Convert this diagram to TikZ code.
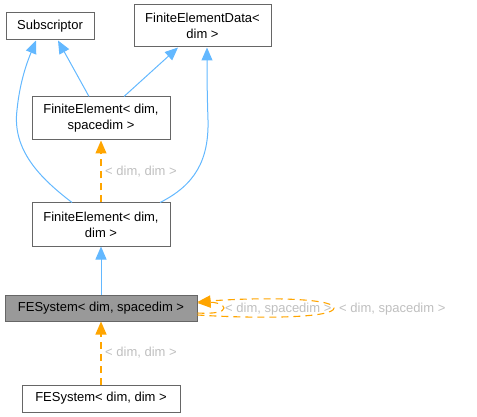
\documentclass[tikz,border=0pt]{standalone}
\usepackage{fontspec}
\setmainfont{Liberation Sans}
\usetikzlibrary{arrows.meta}
\definecolor{edgeblue}{HTML}{63B8FF}
\definecolor{edgeorange}{HTML}{FFA500}
\definecolor{boxborder}{HTML}{666666}
\definecolor{boxfill}{HTML}{999999}
\definecolor{lblgray}{HTML}{BFBFBF}
\begin{document}
\begin{tikzpicture}[x=1pt,y=-1pt,
 cls/.style={draw=boxborder, line width=1pt, fill=white, inner sep=0pt, align=center, font=\fontsize{13}{16}\selectfont, text=black},
 inh/.style={draw=edgeblue, line width=1pt, -{Triangle[length=13pt,width=11pt]}},
 tpl/.style={draw=edgeorange, line width=1.1pt, dash pattern=on 7pt off 5pt, -{Triangle[length=13pt,width=11pt]}},
 lbl/.style={text=lblgray, font=\fontsize{13}{16}\selectfont, inner sep=0pt, anchor=west}]
\useasboundingbox (0,0) rectangle (477,417);
\node[cls, minimum width=88pt, minimum height=27pt] (sub) at (50,26.5) {Subscriptor};
\node[cls, minimum width=137pt, minimum height=42pt] (fed) at (202.5,26) {FiniteElementData<\\dim >};
\node[cls, minimum width=138pt, minimum height=43pt] (fesd) at (101,118.5) {FiniteElement< dim,\\spacedim >};
\node[cls, minimum width=138pt, minimum height=43pt] (fedd) at (101,224.5) {FiniteElement< dim,\\dim >};
\node[cls, fill=boxfill, minimum width=192pt, minimum height=26pt] (fes) at (101,308) {FESystem< dim, spacedim >};
\node[cls, minimum width=158pt, minimum height=27pt] (fesdd) at (101,398.5) {FESystem< dim, dim >};

\draw[inh] ([xshift=-12pt]fesd.north) -- ([xshift=8pt]sub.south);
\draw[inh] ([xshift=23pt]fesd.north) -- ([xshift=-24.5pt]fed.south);
\draw[inh] ([xshift=-29pt]fedd.north) .. controls (40,178) and (12,150) .. (17,110) .. controls (20,80) and (28,60) .. ([xshift=-14pt]sub.south);
\draw[inh] ([xshift=59pt]fedd.north) .. controls (195,185) and (209,160) .. (208,120) .. controls (207,90) and (207,70) .. ([xshift=4.5pt]fed.south);
\draw[tpl] (fedd) -- (fesd);
\node[lbl] (l1) at (105,172) {< dim, dim >};
\draw[inh] (fes) -- (fedd);
\draw[tpl] ([yshift=-7pt]fes.east) .. controls (260,319) and (334,318) .. (334,308) .. controls (334,298) and (260,297) .. ([yshift=6pt]fes.east);
\draw[tpl] ([yshift=-5pt]fes.east) .. controls (214,314) and (224,312) .. (224,308) .. controls (224,304) and (214,302) .. ([yshift=5pt]fes.east);
\node[lbl] (l2) at (225,309) {< dim, spacedim >};
\node[lbl] (l3) at (339,309) {< dim, spacedim >};
\draw[tpl] (fesdd) -- (fes);
\node[lbl] (l4) at (105,353) {< dim, dim >};
\end{tikzpicture}
\end{document}
